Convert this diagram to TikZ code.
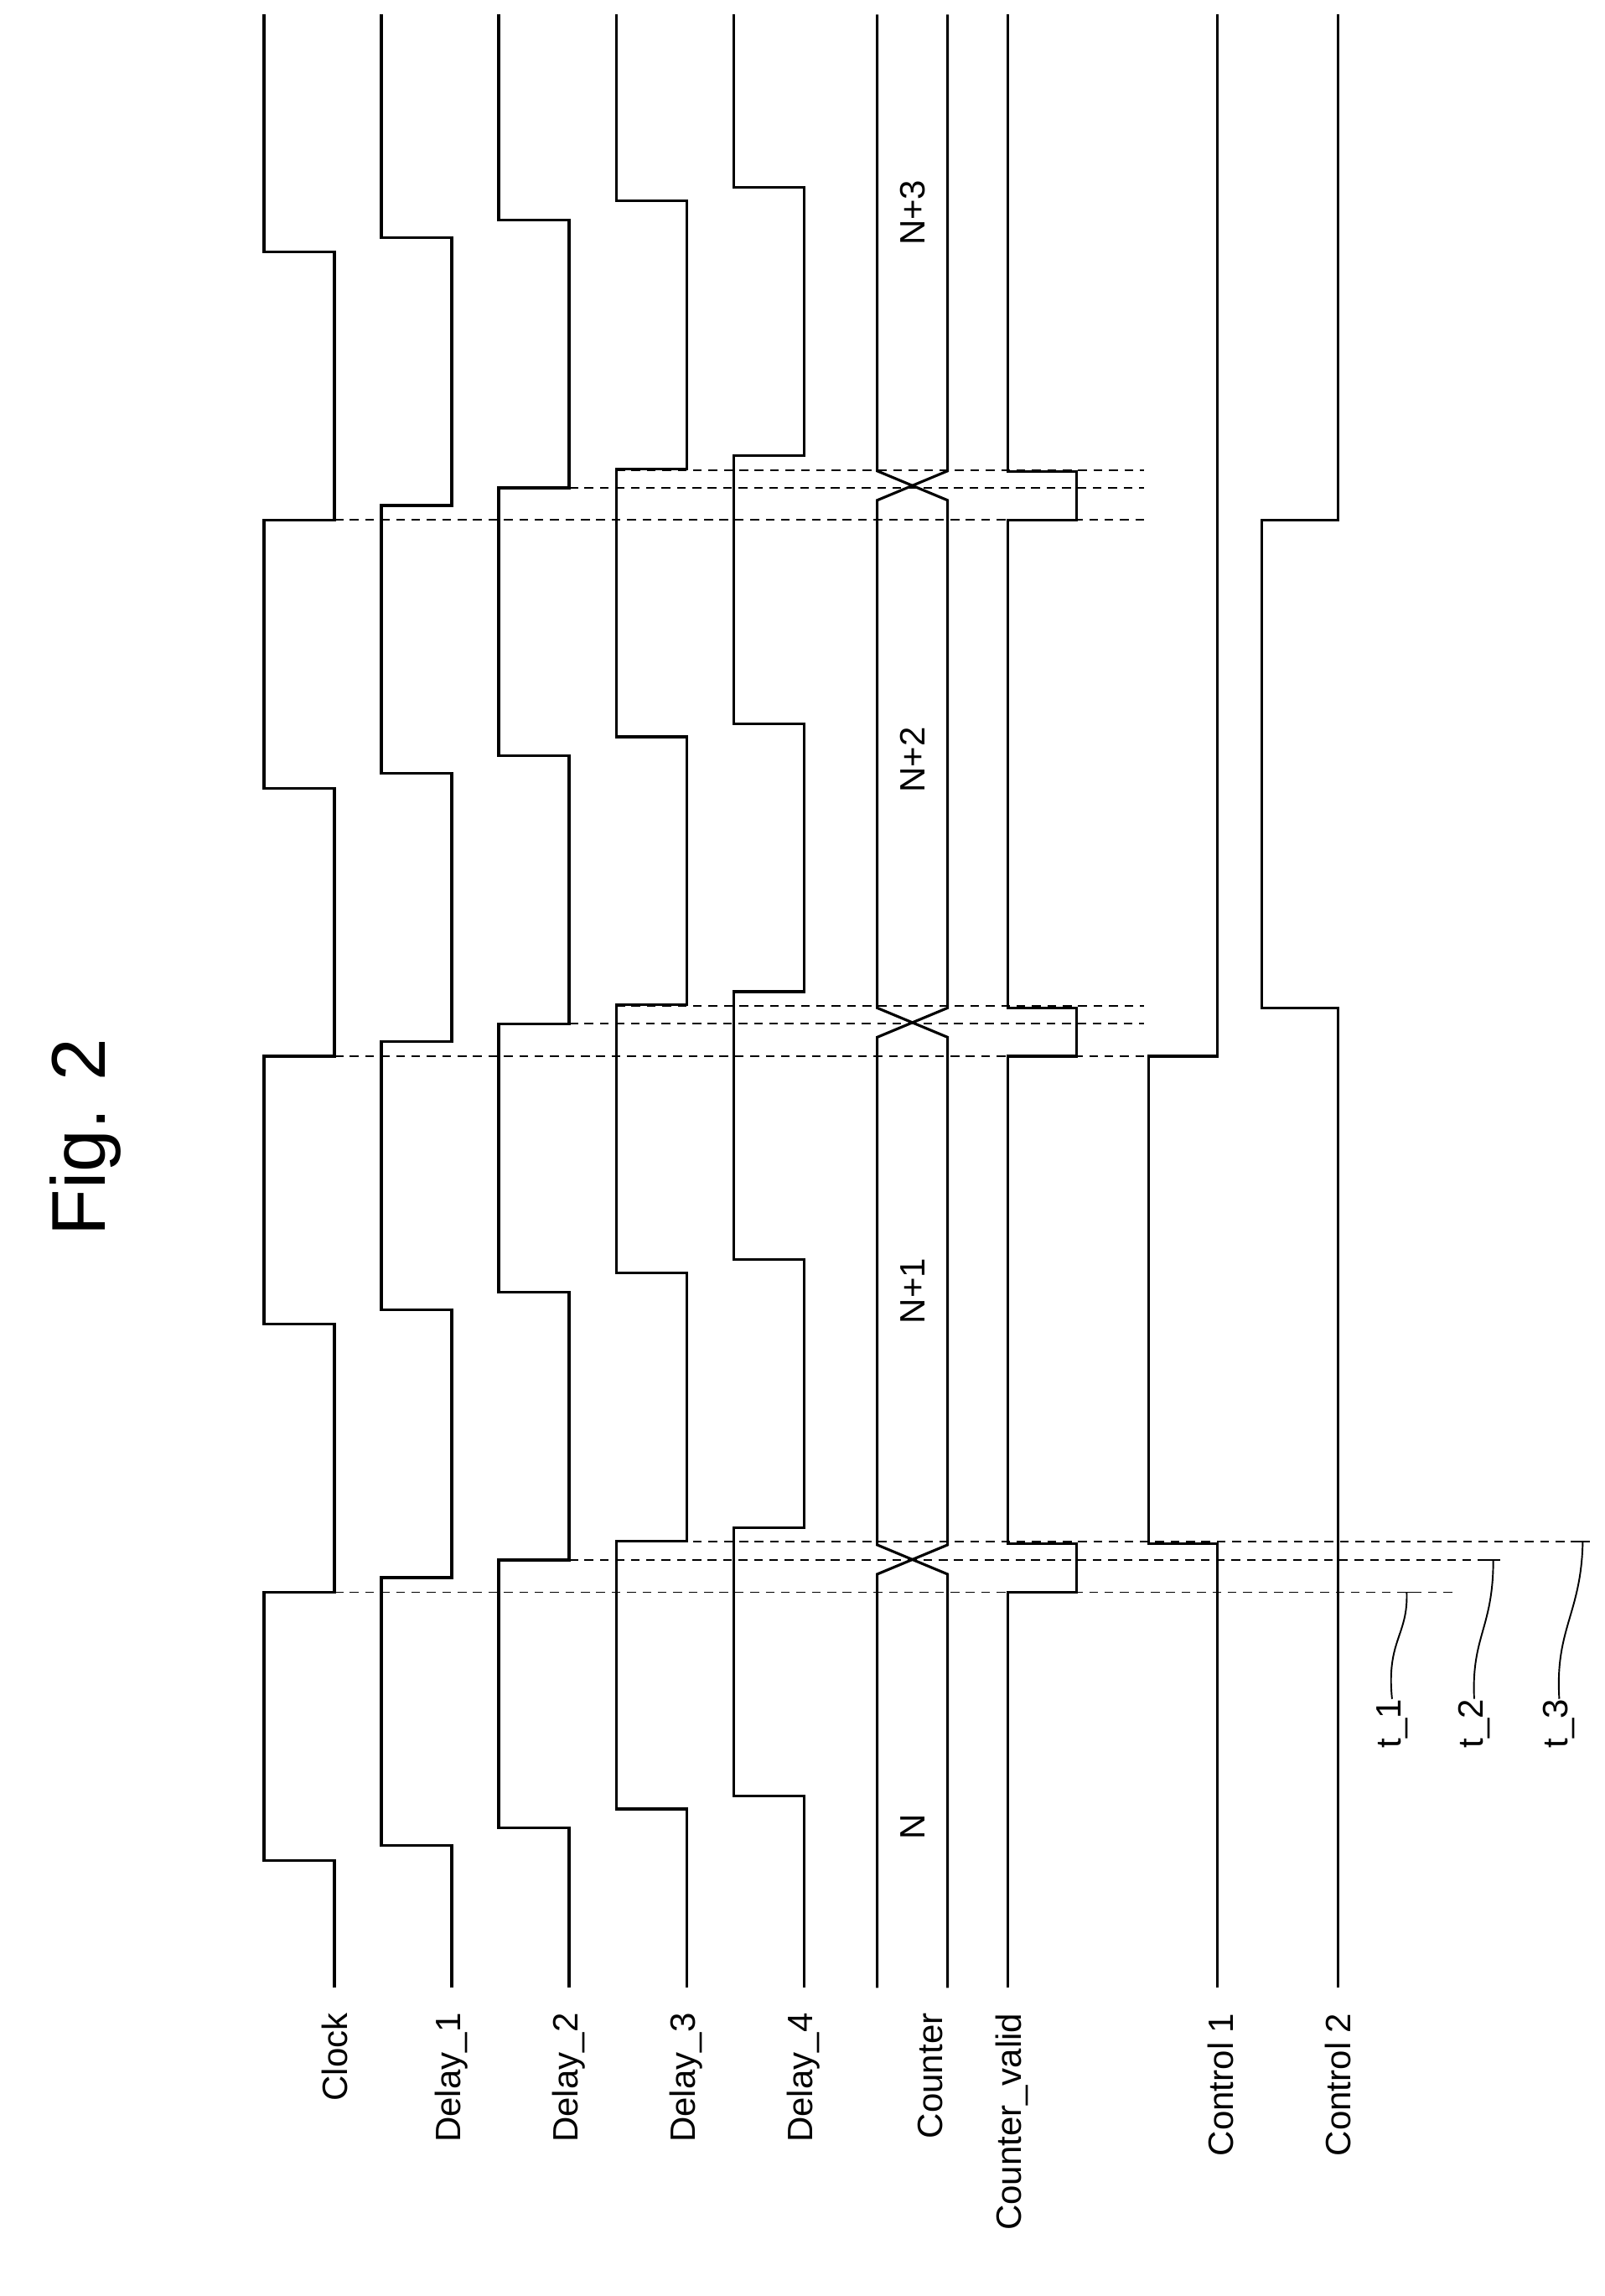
\documentclass[tikz,border=0pt]{standalone}
\usepackage{fontspec}
\setmainfont{Liberation Sans}
\begin{document}
\begin{tikzpicture}[x=1pt, y=-1pt,
  sig/.style={line width=1.8pt, line join=miter},
  guide/.style={line width=1.1pt, dash pattern=on 6pt off 4.5pt},
  lbl/.style={rotate=90, anchor=east, inner sep=0pt, font=\fontsize{24}{26}\selectfont},
  lead/.style={line width=1.1pt}]
\useasboundingbox (0,0) rectangle (1094,1565);

% clock and delayed clocks: xa = start level, xb = other level, offset
\newcommand{\clkline}[3]{%
  \draw[sig] (#1,1355) -- (#1,1268+#3)
  \foreach \k in {0,2,4} {
    -- (#2,1268-182.7*\k+#3) -- (#2,1268-182.7*\k-182.7+#3)
    -- (#1,1268-182.7*\k-182.7+#3) -- (#1,1268-182.7*\k-365.4+#3)}
  -- (#2,1268-182.7*6+#3) -- (#2,10);}
\clkline{228}{180}{0}
\clkline{308}{260}{-10}
\clkline{388}{340}{-22}
\clkline{468}{420}{-35}
\clkline{548}{500}{-44}

% counter bus
\draw[sig] (598,1355) -- (598,1073) -- (646,1053) -- (646,707) -- (598,687)
  -- (598,341) -- (646,321) -- (646,10);
\draw[sig] (646,1355) -- (646,1073) -- (598,1053) -- (598,707) -- (646,687)
  -- (646,341) -- (598,321) -- (598,10);

% counter valid
\draw[sig] (687,1355) \foreach \k in {1,3,5} {
    -- (687,1268-182.7*\k) -- (734,1268-182.7*\k)
    -- (734,1268-182.7*\k-33) -- (687,1268-182.7*\k-33)} -- (687,10);

% controls
\draw[sig] (830,1355) -- (830,1052) -- (783,1052) -- (783,719.9) -- (830,719.9) -- (830,10);
\draw[sig] (912,1355) -- (912,687) -- (860,687) -- (860,354.5) -- (912,354.5) -- (912,10);

% guides
\draw[guide] (228,1085.3) -- (990,1085.3);
\draw[guide] (388,1063.3) -- (1018,1063.3);
\draw[guide] (420,1051) -- (1079,1051);
\foreach \k in {3,5} {
  \draw[guide] (228,1268-182.7*\k) -- (780,1268-182.7*\k);
  \draw[guide] (388,1268-182.7*\k-22) -- (780,1268-182.7*\k-22);
  \draw[guide] (420,1268-182.7*\k-34) -- (780,1268-182.7*\k-34);
}

% time marks
\coordinate (m1) at (959,1085.3);
\coordinate (m2) at (1018,1063.3);
\coordinate (m3) at (1079,1051);
\node[lbl] (t1) at (949,1158) {t\_1};
\node[lbl] (t2) at (1005,1158) {t\_2};
\node[lbl] (t3) at (1063,1158) {t\_3};
\draw[lead] (m1) .. controls (960,1115) and (945,1118) .. (t1.east);
\draw[lead] (m2) .. controls (1018,1110) and (1003,1115) .. (t2.east);
\draw[lead] (m3) .. controls (1078,1100) and (1060,1110) .. (t3.east);
\draw[lead] (954,1085.3) -- (964,1085.3);
\draw[lead] (1013,1063.3) -- (1023,1063.3);
\draw[lead] (1074,1051) -- (1084,1051);

% counter values
\node[lbl, anchor=center] (v0) at (622,1245) {N};
\node[lbl, anchor=center] (v1) at (622,880) {N+1};
\node[lbl, anchor=center] (v2) at (622,518) {N+2};
\node[lbl, anchor=center] (v3) at (622,145) {N+3};

% signal names
\node[lbl] (clk) at (228,1372) {Clock};
\node[lbl] (d1) at (308,1372) {Delay\_1};
\node[lbl] (d2) at (388,1372) {Delay\_2};
\node[lbl] (d3) at (468,1372) {Delay\_3};
\node[lbl] (d4) at (548,1372) {Delay\_4};
\node[lbl] (cnt) at (634,1372) {Counter};
\node[lbl] (cv) at (690,1372) {Counter\_valid};
\node[lbl] (c1) at (832,1372) {Control 1};
\node[lbl] (c2) at (912,1372) {Control 2};

\node[rotate=90, font=\fontsize{52}{56}\selectfont] (fig) at (58,775) {Fig. 2};
\end{tikzpicture}
\end{document}
